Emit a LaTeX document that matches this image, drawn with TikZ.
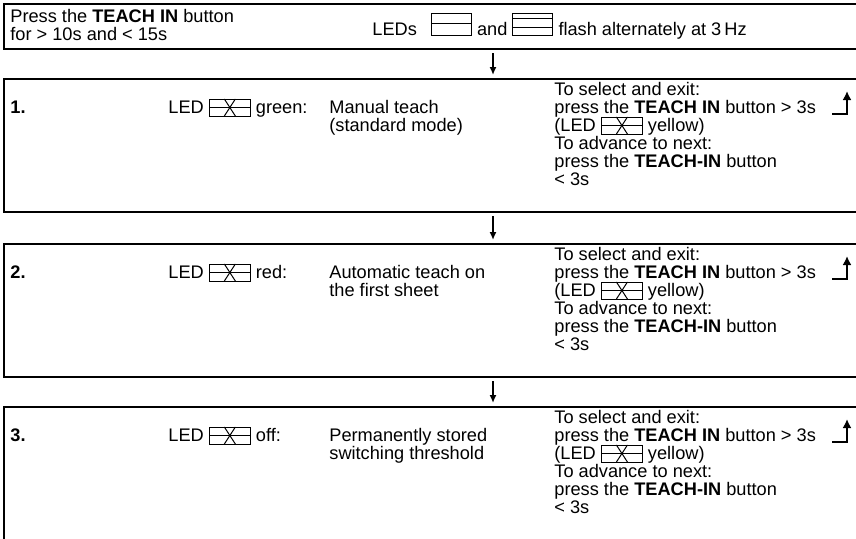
\documentclass[tikz,border=0pt]{standalone}
\usepackage{fontspec}
\setmainfont{Liberation Sans}
\usetikzlibrary{arrows.meta}

\newcommand{\ledbar}{\smash{\tikz[baseline=0pt,x=1pt,y=1pt,line width=0.5pt]{\draw (0,0) rectangle (20,11); \draw (0,6) -- (20,6);}}}
\newcommand{\ledbars}{\smash{\tikz[baseline=0pt,x=1pt,y=1pt,line width=0.5pt]{\draw (0,0) rectangle (20,11); \draw (0,8.4) -- (20,8.4) (0,3.6) -- (20,3.6);}}}
\newcommand{\ledglass}{\smash{\tikz[baseline=1.5pt,x=1pt,y=1pt,line width=0.5pt]{\draw (0,0) rectangle (20.5,8.5) (0,4.25) -- (20.5,4.25); \draw (7.5,8.5) -- (10.25,4.25) -- (13,8.5) (7.5,0) -- (10.25,4.25) -- (13,0);}}}

\begin{document}
\begin{tikzpicture}[x=0.5pt, y=-0.5pt,
  frame/.style={line width=0.9pt},
  txt/.style={anchor=base west, inner sep=0pt, align=left, font=\fontsize{9.1}{9}\selectfont},
  flow/.style={line width=1pt, -{Latex[length=4pt,width=3.5pt]}},
  back/.style={line width=1pt, -{Latex[length=4.5pt,width=4.5pt]}}]

  \useasboundingbox (0,0) rectangle (856,538);

  % start (multi-line nodes sit on their last baseline)
  \draw[frame] (856,4) -- (4,4) -- (4,49) -- (856,49);
  \node[txt] (press) at (10,40) {Press the \textbf{TEACH IN} button\\for > 10s and < 15s};
  \node[txt] (flash) at (372,35) {LEDs\hspace{4.5pt} \ledbar{} and \ledbars{} flash alternately at 3\,Hz};
  \coordinate (out0) at (493,53);

  % steps
  \foreach \i/\t/\b/\col/\mode in {1/79/212/green/{Manual teach\\(standard mode)},
      2/244/377/red/{Automatic teach on\\the first sheet},
      3/407/545/off/{Permanently stored\\switching threshold}} {
    \draw[frame] (856,\t) -- (4,\t) -- (4,\b) -- (856,\b);
    \node[txt] (num\i) at (10,\t+34) {\textbf{\i.}};
    \node[txt] (led\i) at (168,\t+34) {LED \ledglass{} \col:};
    \node[txt] (mode\i) at (329,\t+52) {\mode};
    \node[txt] (act\i) at (554,\t+106) {To select and exit:\\press the \textbf{TEACH IN} button > 3s\\(LED \ledglass{} yellow)\\To advance to next:\\press the \textbf{TEACH-IN} button\\< 3s};
    \coordinate (in\i) at (493,\t-4);
    \coordinate (out\i) at (493,\b+4);
    \coordinate (foot\i) at (832,\t+35);
    \coordinate (tip\i) at (847,\t+12);
    \draw[back] (foot\i) -| (tip\i);
  }

  % flow
  \draw[flow] (out0) -- (in1);
  \draw[flow] (out1) -- (in2);
  \draw[flow] (out2) -- (in3);
\end{tikzpicture}
\end{document}
